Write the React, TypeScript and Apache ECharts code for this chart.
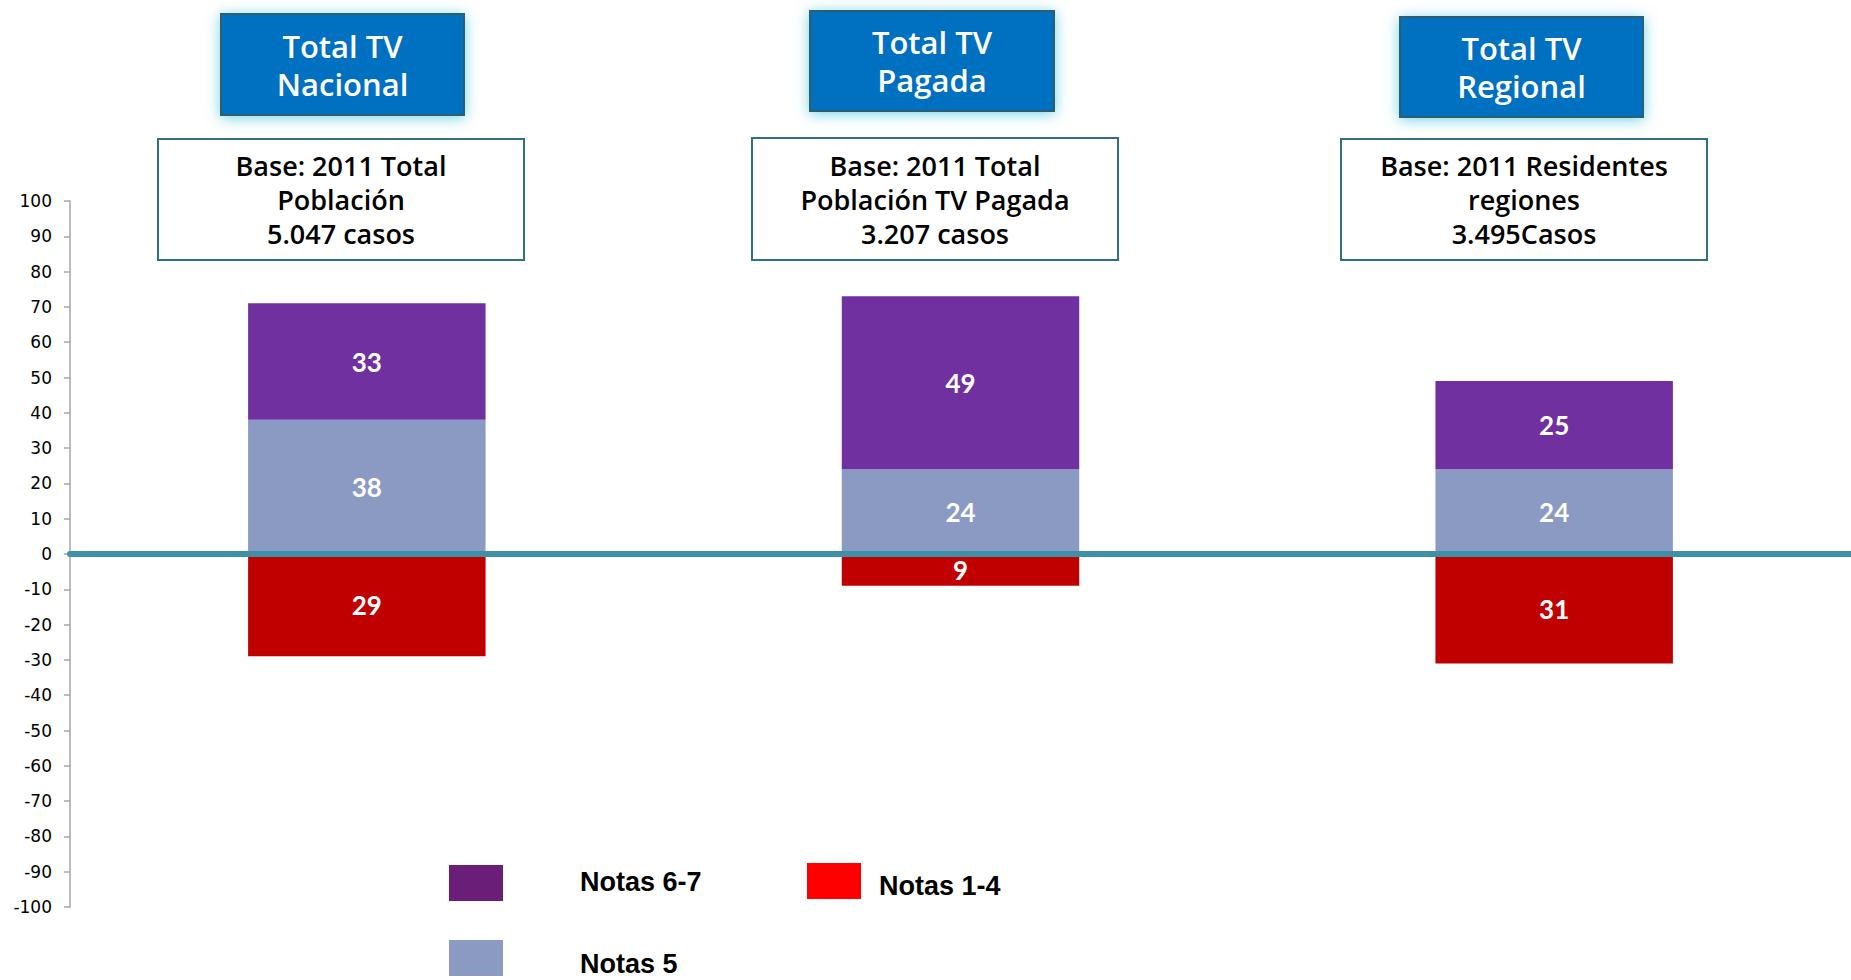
import React, { useEffect, useRef } from "react";
import * as echarts from "echarts";

const categories = ["Total TV Nacional", "Total TV Pagada", "Total TV Regional"];
const notas67 = [33, 49, 25];
const notas5 = [38, 24, 24];
const notas14 = [-29, -9, -31];

const headerTitles = ["Total TV\nNacional", "Total TV\nPagada", "Total TV\nRegional"];
const baseTexts = [
  "Base: 2011 Total\nPoblación\n5.047 casos",
  "Base: 2011 Total\nPoblación TV Pagada\n3.207 casos",
  "Base: 2011 Residentes\nregiones\n3.495Casos",
];
const legendNames = ["Notas 6-7", "Notas 1-4", "Notas 5"];
const legendColors = ["#6A1E78", "#FF0000", "#8A9AC3"];

const headerBoxes = [
  { x: 221, y: 14, w: 243, h: 101 },
  { x: 810, y: 11, w: 244, h: 100 },
  { x: 1400, y: 17, w: 243, h: 100 },
];
const baseBoxes = [
  { x: 158, y: 139, w: 366, h: 121 },
  { x: 752, y: 138, w: 366, h: 122 },
  { x: 1341, y: 139, w: 366, h: 121 },
];
const legendPos = [
  { x: 449, y: 865, tx: 580, ty: 882 },
  { x: 807, y: 863, tx: 879, ty: 886 },
  { x: 449, y: 940, tx: 580, ty: 964 },
];

export default function App() {
  const ref = useRef<HTMLDivElement>(null);
  useEffect(() => {
    if (!ref.current) return;
    const chart = echarts.init(ref.current, null, { renderer: "svg" });
    const labelStyle = {
      show: true,
      position: "inside",
      color: "#ffffff",
      fontSize: 26,
      fontWeight: "bold",
      fontFamily: "Lato, 'Open Sans', sans-serif",
      formatter: (p: any) => String(Math.abs(p.value)),
    };
    const graphics: any[] = [];
    headerBoxes.forEach((b, i) => {
      graphics.push({
        type: "rect",
        shape: { x: b.x, y: b.y, width: b.w, height: b.h },
        style: {
          fill: "#0070C0",
          stroke: "#2F5E70",
          lineWidth: 2,
          shadowBlur: 14,
          shadowColor: "rgba(80,200,220,0.8)",
          shadowOffsetY: 2,
        },
        z: 10,
      });
      graphics.push({
        type: "text",
        x: b.x + b.w / 2,
        y: b.y + b.h / 2,
        style: {
          text: headerTitles[i],
          fill: "#ffffff",
          font: "600 31px 'Open Sans', Lato, sans-serif",
          textAlign: "center",
          textVerticalAlign: "middle",
          lineHeight: 38,
        },
        z: 11,
      });
    });
    baseBoxes.forEach((b, i) => {
      graphics.push({
        type: "rect",
        shape: { x: b.x, y: b.y, width: b.w, height: b.h },
        style: { fill: "#ffffff", stroke: "#31707F", lineWidth: 2 },
        z: 10,
      });
      graphics.push({
        type: "text",
        x: b.x + b.w / 2,
        y: b.y + b.h / 2,
        style: {
          text: baseTexts[i],
          fill: "#000000",
          font: "600 27px 'Open Sans', Lato, sans-serif",
          textAlign: "center",
          textVerticalAlign: "middle",
          lineHeight: 34,
        },
        z: 11,
      });
    });
    legendPos.forEach((p, i) => {
      graphics.push({
        type: "rect",
        shape: { x: p.x, y: p.y, width: 54, height: 36 },
        style: { fill: legendColors[i] },
        z: 10,
      });
      graphics.push({
        type: "text",
        x: p.tx,
        y: p.ty,
        style: {
          text: legendNames[i],
          fill: "#000000",
          font: "bold 27px 'Liberation Sans Narrow', 'Liberation Sans', sans-serif",
          textAlign: "left",
          textVerticalAlign: "middle",
        },
        z: 11,
      });
    });

    chart.setOption({
      animation: false,
      backgroundColor: "#ffffff",
      grid: { left: 70, top: 201, width: 1785, height: 706, containLabel: false },
      xAxis: {
        type: "category",
        data: categories,
        z: 5,
        axisLine: {
          onZero: true,
          lineStyle: { color: "#3F90A6", width: 6 },
        },
        axisTick: { show: false },
        axisLabel: { show: false },
        splitLine: { show: false },
      },
      yAxis: {
        type: "value",
        min: -100,
        max: 100,
        interval: 10,
        axisLine: { show: true, lineStyle: { color: "#A6A6A6", width: 1.5 } },
        axisTick: { show: true, inside: false, length: 6, lineStyle: { color: "#A6A6A6", width: 1.5 } },
        axisLabel: {
          color: "#000000",
          fontSize: 17,
          fontFamily: "'DejaVu Sans', Verdana, sans-serif",
          margin: 18,
        },
        splitLine: { show: false },
      },
      series: [
        {
          name: "Notas 5",
          type: "bar",
          stack: "total",
          barWidth: "40%",
          data: notas5,
          itemStyle: { color: "#8A9AC3" },
          label: labelStyle,
        },
        {
          name: "Notas 6-7",
          type: "bar",
          stack: "total",
          barWidth: "40%",
          data: notas67,
          itemStyle: { color: "#7030A0" },
          label: labelStyle,
        },
        {
          name: "Notas 1-4",
          type: "bar",
          stack: "total",
          barWidth: "40%",
          data: notas14,
          itemStyle: { color: "#C00000" },
          label: labelStyle,
        },
      ],
      graphic: graphics,
    });
    return () => chart.dispose();
  }, []);
  return (
    <div
      ref={ref}
      style={{ position: "fixed", left: 0, top: 0, width: 1851, height: 980, background: "#fff" }}
    />
  );
}
